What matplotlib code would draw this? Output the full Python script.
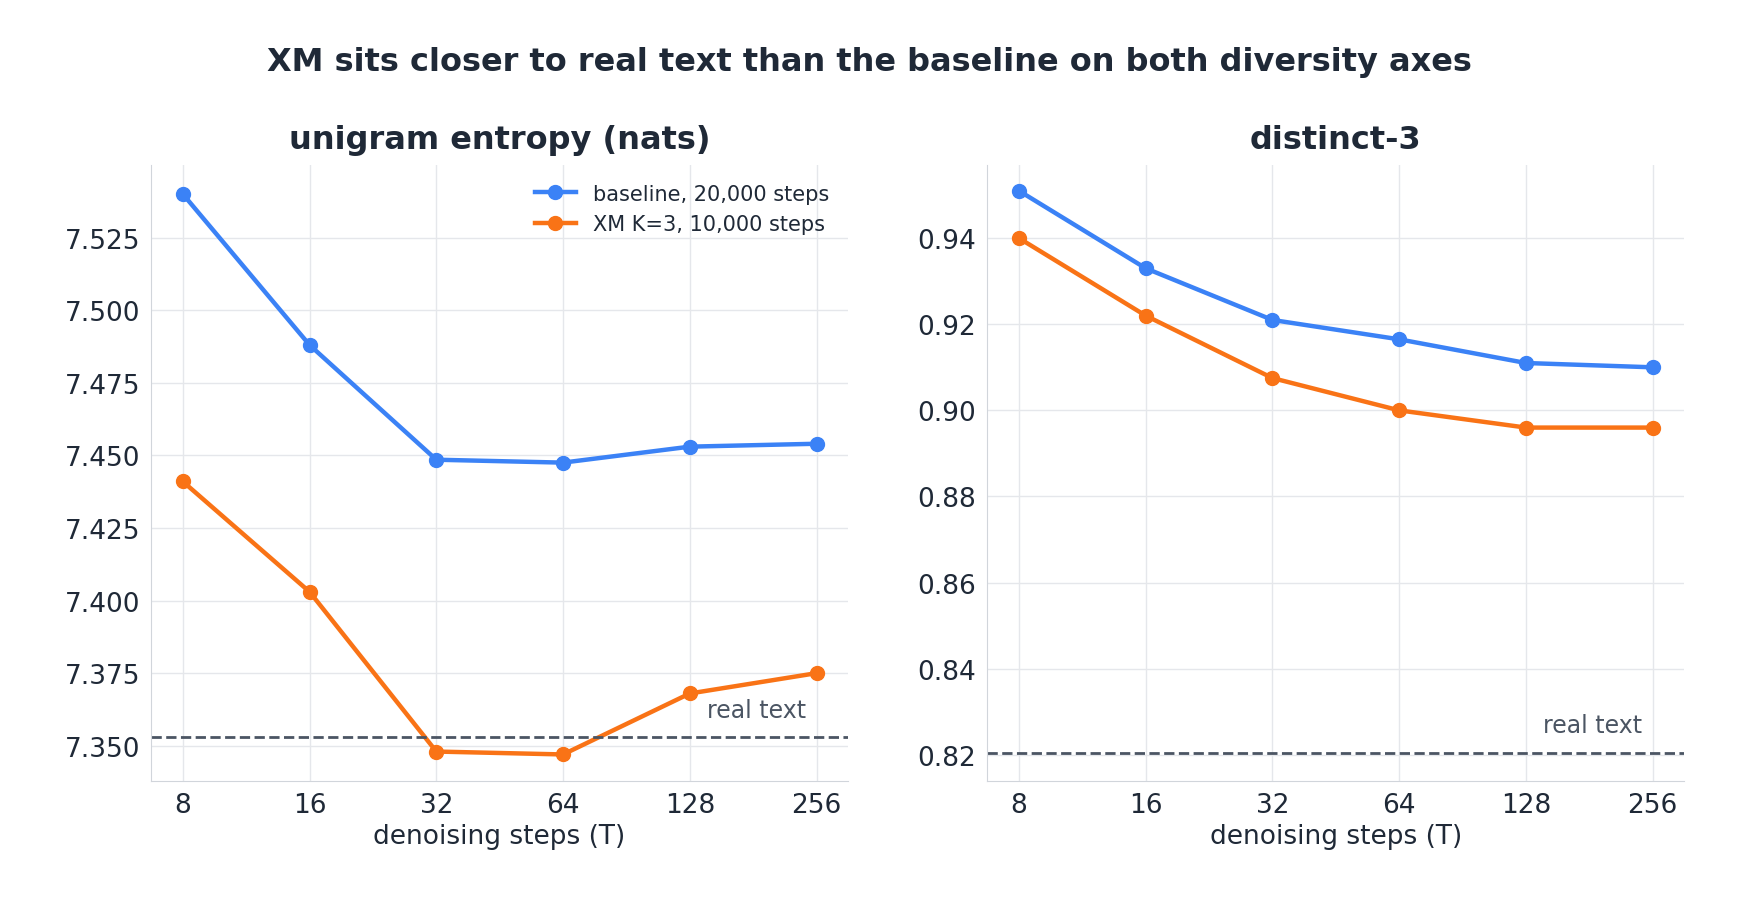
import matplotlib
matplotlib.use("Agg")
import matplotlib.pyplot as plt

steps = [8, 16, 32, 64, 128, 256]
ent_base = [7.540, 7.488, 7.4485, 7.4475, 7.453, 7.454]
ent_xm = [7.441, 7.403, 7.348, 7.347, 7.368, 7.375]
ent_real = 7.353
d3_base = [0.951, 0.933, 0.921, 0.9165, 0.911, 0.910]
d3_xm = [0.940, 0.922, 0.9075, 0.900, 0.896, 0.896]
d3_real = 0.8205

blue, orange, dark = "#3b82f6", "#f97316", "#1f2937"
plt.rcParams['font.family'] = ['DejaVu Sans']
fig, axes = plt.subplots(1, 2, figsize=(17.38, 9.12), dpi=100)
fig.subplots_adjust(left=0.087, right=0.969, top=0.818, bottom=0.143, wspace=0.2)
fig.suptitle("XM sits closer to real text than the baseline on both diversity axes",
             fontsize=23, fontweight='bold', color=dark, y=0.948)

panels = [(axes[0], "unigram entropy (nats)", ent_base, ent_xm, ent_real, (7.338, 7.550), [7.35,7.375,7.4,7.425,7.45,7.475,7.5,7.525], "{:.3f}"),
          (axes[1], "distinct-3", d3_base, d3_xm, d3_real, (0.814, 0.957), [0.82,0.84,0.86,0.88,0.90,0.92,0.94], "{:.2f}")]
for i, (ax, title, b, x, real, ylim, yt, fmt) in enumerate(panels):
    ax.plot(steps, b, '-o', color=blue, lw=3.2, ms=10, label="baseline, 20,000 steps")
    ax.plot(steps, x, '-o', color=orange, lw=3.2, ms=10, label="XM K=3, 10,000 steps")
    ax.axhline(real, color="#4b5563", ls='--', lw=2)
    ax.text(0.94, real + (ylim[1]-ylim[0])*0.025, "real text", transform=ax.get_yaxis_transform(),
            ha='right', va='bottom', fontsize=17, color="#4b5563")
    ax.set_xscale('log', base=2)
    ax.set_xticks(steps)
    ax.set_xticklabels([str(s) for s in steps])
    ax.minorticks_off()
    ax.set_xlim(6.73, 304)
    ax.set_ylim(*ylim)
    ax.set_yticks(yt)
    ax.set_yticklabels([fmt.format(v) for v in yt])
    ax.set_title(title, fontsize=23, fontweight='bold', color=dark, pad=12)
    ax.set_xlabel("denoising steps (T)", fontsize=19, color=dark)
    ax.tick_params(labelsize=19, colors=dark, length=0, pad=8)
    ax.grid(True, color="#e5e7eb", lw=1)
    ax.set_axisbelow(True)
    for s in ['top', 'right']:
        ax.spines[s].set_visible(False)
    for s in ['left', 'bottom']:
        ax.spines[s].set_color("#d1d5db")
    if i == 0:
        ax.legend(loc='upper right', frameon=False, fontsize=15, labelcolor=dark)

fig.savefig("out.png")
